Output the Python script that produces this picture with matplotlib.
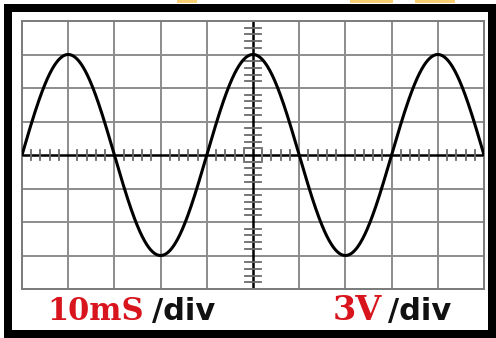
import numpy as np
import matplotlib
matplotlib.use("Agg")
import matplotlib.pyplot as plt
from matplotlib.patches import Rectangle

# ---- data ----
ms_per_div = 10          # time base
volts_per_div = 3        # vertical scale
n_xdiv = 10
n_ydiv = 8
amplitude_v = 9          # 3 divisions
period_ms = 40           # 4 divisions
phase_deg = 0
time_label = "10mS"
volt_label = "3V"
unit_label = "/div"

W, H = 496, 338
fig = plt.figure(figsize=(W / 100, H / 100), dpi=100)
fig.patch.set_facecolor("white")

def fx(px):
    return px / W

def fy(py):
    return 1 - py / H

# yellow remnants at the top edge
for x0, x1 in [(177, 197), (350, 393), (415, 455)]:
    fig.patches.append(Rectangle((fx(x0), fy(3)), fx(x1 - x0), 3 / H,
                                 transform=fig.transFigure, facecolor="#f7cf72",
                                 edgecolor="none", zorder=0))

# thick black outer frame
lw_px = 8
fig.patches.append(Rectangle((fx(4 + lw_px / 2), fy(338 - lw_px / 2)),
                             fx(496 - 4 - lw_px), (338 - 4 - lw_px) / H,
                             transform=fig.transFigure, facecolor="none",
                             edgecolor="black", linewidth=lw_px * 0.72, zorder=1))

# screen axes
gl, gr, gt, gb = 22, 484, 21, 289
ax = fig.add_axes([fx(gl), fy(gb), fx(gr - gl), (gb - gt) / H])
xmax = n_xdiv * ms_per_div
ymax = n_ydiv / 2 * volts_per_div
ax.set_xlim(0, xmax)
ax.set_ylim(-ymax, ymax)
ax.set_xticks([])
ax.set_yticks([])
for s in ax.spines.values():
    s.set_color("#7a7a7a")
    s.set_linewidth(1.4)

px_x = xmax / (gr - gl)   # data units per pixel
px_y = 2 * ymax / (gb - gt)

grid_c = "#8c8c8c"
for i in range(1, n_xdiv):
    x = i * ms_per_div
    if x == xmax / 2:
        continue
    ax.axvline(x, color=grid_c, lw=1.4, zorder=1)
for j in range(1, n_ydiv):
    y = -ymax + j * volts_per_div
    if y == 0:
        continue
    ax.axhline(y, color=grid_c, lw=1.4, zorder=1)

# centre axes
ax.axvline(xmax / 2, color="black", lw=1.8, zorder=2)
ax.axhline(0, color="black", lw=1.8, zorder=2)

# minor ticks on centre lines (5 subdivisions per division)
sub = 5
hx = 8 * px_x
hy = 5 * px_y
tick_c = "#6a6a6a"
for k in range(1, n_xdiv * sub):
    if k % sub == 0:
        continue
    x = k * ms_per_div / sub
    ax.plot([x, x], [-hy, hy], color=tick_c, lw=1.3, zorder=2)
for k in range(1, n_ydiv * sub):
    if k % sub == 0:
        continue
    y = -ymax + k * volts_per_div / sub
    ax.plot([xmax / 2 - hx, xmax / 2 + hx], [y, y], color=tick_c, lw=1.3, zorder=2)

# small centre box
ax.add_patch(Rectangle((xmax / 2 - 9 * px_x, -7 * px_y), 18 * px_x, 14 * px_y,
                       facecolor="none", edgecolor="#777777", lw=1.3, zorder=2))

# waveform
t = np.linspace(0, xmax, 1001)
v = amplitude_v * np.sin(2 * np.pi * t / period_ms + np.deg2rad(phase_deg))
ax.plot(t, v, color="black", lw=2.2, zorder=3, solid_capstyle="round")

# labels
red = "#d8141c"
base = fy(320)
fig.text(fx(47), base, time_label, color=red, fontsize=22, fontweight="bold",
         family="DejaVu Serif", va="baseline", ha="left")
fig.text(fx(152), base, unit_label, color="#111111", fontsize=22, fontweight="bold",
         family="DejaVu Sans", va="baseline", ha="left")
fig.text(fx(333), base, volt_label, color=red, fontsize=24, fontweight="bold",
         family="DejaVu Serif", va="baseline", ha="left")
fig.text(fx(388), base, unit_label, color="#111111", fontsize=22, fontweight="bold",
         family="DejaVu Sans", va="baseline", ha="left")

fig.savefig("out.png", dpi=100)
